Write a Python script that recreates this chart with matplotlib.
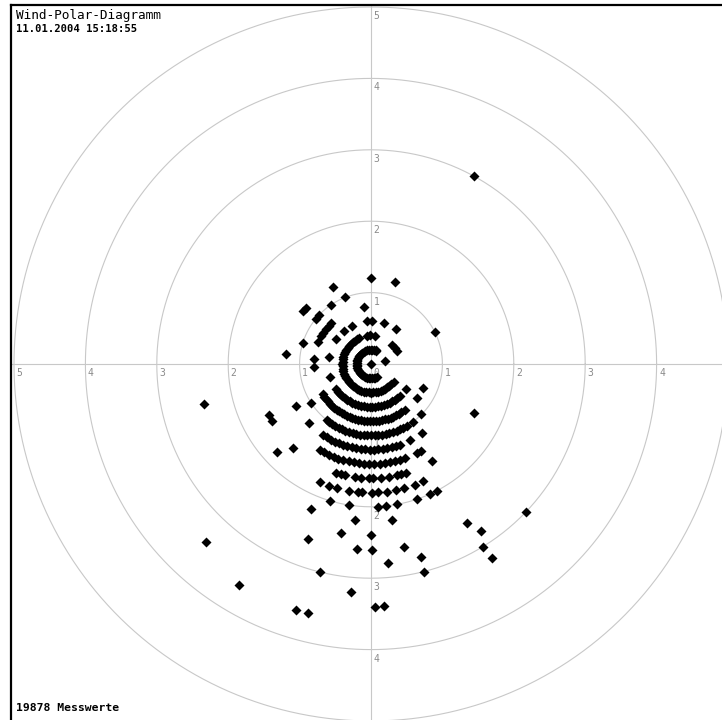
import numpy as np
from matplotlib import pyplot as plt

# wind speed classes and the directions measured in them
# (direction in degrees, clockwise from north)
ring_speed = [0.2, 0.4, 0.6, 0.8, 1.0, 1.2, 1.4, 1.6, 1.8, 2.0,
              2.2, 2.4, 2.6, 2.8, 3.0, 3.2, 3.4, 3.6]

ring_dirs = [
    # 0.2
    [155, 162, 169, 176, 183, 190, 197, 204, 211, 218, 225, 232, 239, 246,
     253, 260, 267, 274, 281, 288, 295, 302, 309, 316, 323, 330, 337, 344,
     351, 358, 5, 12, 19, 22, 79],
    # 0.4
    [135, 140, 145, 150, 155, 160, 165, 170, 175, 180, 185, 190, 195, 200,
     205, 210, 215, 220, 225, 230, 235, 240, 245, 250, 255, 260, 265, 270,
     275, 280, 285, 290, 295, 300, 305, 310, 315, 320, 325, 330, 335,
     351, 358, 8, 48, 56, 64, 128],
    # 0.6
    [138, 142, 146, 150, 154, 158, 162, 166, 170, 174, 178, 182, 186, 190,
     194, 198, 202, 206, 210, 214, 218, 222, 226, 230, 234,
     253, 280, 306, 321, 333, 354, 2, 18, 35, 125],
    # 0.8
    [148, 151, 154, 157, 160, 163, 166, 169, 172, 175, 178, 181, 184, 187,
     190, 193, 196, 199, 202, 205, 208, 211, 214, 217, 220, 223, 226, 229,
     232, 235, 238, 267, 275, 293, 299, 303, 308, 312, 316, 353,
     115, 126, 143],
    # 1.0
    [150, 153, 156, 159, 162, 165, 168, 171, 174, 177, 180, 183, 186, 189,
     192, 195, 198, 201, 204, 207, 210, 213, 216, 218,
     236.5, 287, 309, 313, 326, 339, 63, 135, 144],
    # 1.2
    [160, 163, 166, 169, 172, 175, 178, 181, 184, 187, 190, 193, 196, 199,
     202, 205, 208, 211, 214, 143.8, 153, 226.6, 241, 277, 308, 310.5,
     333.5, 0, 16],
    # 1.4
    [163, 166, 169, 172, 175, 178, 181, 184, 187, 190, 193, 196, 199, 202,
     205, 208, 211, 150, 152.5, 160],
    # 1.6
    [162, 165, 167, 171, 175, 179, 181, 185, 188, 193, 195, 198,
     147.7, 115.4, 223, 240, 243.6],
    # 1.8
    [156, 160, 165, 169, 173, 177, 179.5, 184, 186, 190, 195.4, 199, 203.5,
     227],
    # 2.0
    [152.6, 155.6, 161, 169.7, 173.8, 177, 188.7, 196.8],
    # 2.2
    [202.4, 185.8, 172.5],
    # 2.4
    [190.2, 180, 256.5],
    # 2.6
    [199.8, 169.8, 184.4, 179.6, 149],
    # 2.8
    [146.6, 165.4, 175],
    # 3.0
    [133.7, 148.5, 193.9, 165.8, 28.7],
    # 3.2
    [147.9, 185],
    # 3.4
    [177, 179, 222.7],
    # 3.6
    [197, 194.2, 210.8],
]

grid_rings = [1, 2, 3, 4, 5]
title = "Wind-Polar-Diagramm"
stamp = "11.01.2004 15:18:55"
count_text = "19878 Messwerte"

W, H = 722, 720
cx, cy = 371, 364      # centre in pixels
unit = 71.4            # pixels per m/s
left_px, top_px = 11, 5

fig = plt.figure(figsize=(W / 100, H / 100), dpi=100)
fig.patch.set_facecolor("white")
ax = fig.add_axes([left_px / W, 0, 1 - left_px / W, 1 - top_px / H])
ax.set_xlim((left_px - cx) / unit, (W - cx) / unit)
ax.set_ylim(-(H - cy) / unit, (cy - top_px) / unit)
ax.set_aspect("equal")
ax.set_xticks([])
ax.set_yticks([])
for side in ["right", "bottom"]:
    ax.spines[side].set_visible(False)
for side in ["left", "top"]:
    ax.spines[side].set_linewidth(1.6)
    ax.spines[side].set_color("black")

grey = "#c8c8c8"
t = np.linspace(0, 2 * np.pi, 721)
for r in grid_rings:
    ax.plot(r * np.cos(t), r * np.sin(t), color=grey, lw=0.8, zorder=1)
ax.axhline(0, color=grey, lw=0.8, zorder=1)
ax.axvline(0, color=grey, lw=0.8, zorder=1)

# axis numbers (the right and bottom "5" fall outside the picture)
dx = 2.5 / unit
dy = -9 / unit
lab = dict(fontsize=7, color="#8a8a8a", family="DejaVu Sans Mono",
           ha="left", va="center", zorder=2)
ax.text(dx, dy, "0", **lab)
for r in grid_rings:
    ax.text(-r + dx, dy, str(r), **lab)
    ax.text(dx, r + dy, str(r), **lab)
    if r < 5:
        ax.text(r + dx, dy, str(r), **lab)
        ax.text(dx, -r + dy, str(r), **lab)

# measurements
spd = [0.0]
dirs = [0.0]
for s, ds in zip(ring_speed, ring_dirs):
    spd += [s] * len(ds)
    dirs += ds
spd = np.array(spd)
th = np.radians(dirs)
ax.plot(spd * np.sin(th), spd * np.cos(th), ls="none", marker="D",
        ms=4.6, mec="none", color="black", zorder=3)

fig.text(16 / W, 1 - 15 / H, title, fontsize=9.2, family="DejaVu Sans Mono",
         ha="left", va="center")
fig.text(16 / W, 1 - 29 / H, stamp, fontsize=7.6, family="DejaVu Sans Mono",
         fontweight="bold", ha="left", va="center")
fig.text(16 / W, 1 - 708 / H, count_text, fontsize=8.2,
         family="DejaVu Sans Mono", fontweight="bold", ha="left", va="center")

fig.savefig("out.png", dpi=100)
